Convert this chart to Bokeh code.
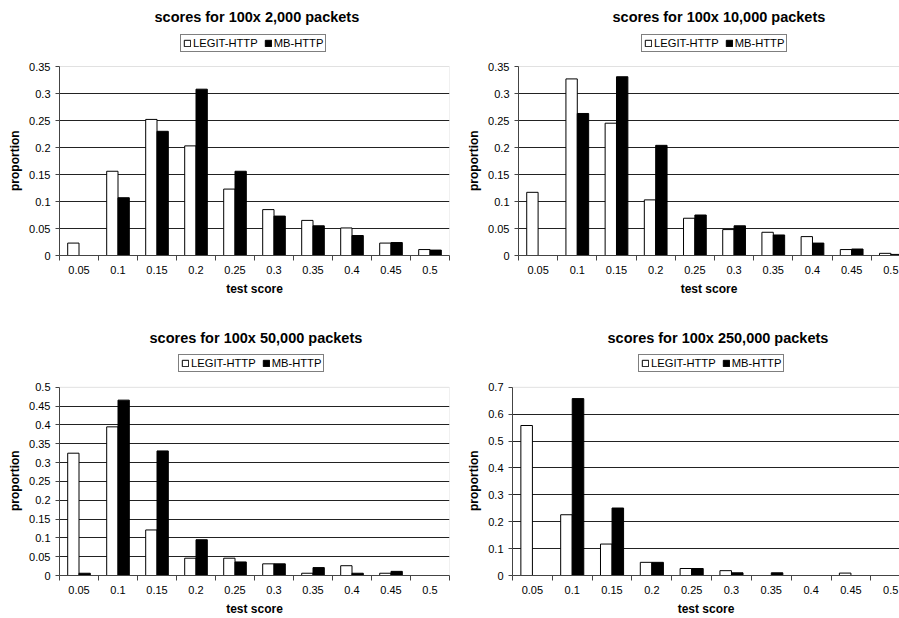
from bokeh.plotting import figure
from bokeh.models import (FixedTicker, CustomJSTickFormatter, Range1d, Legend,
                          LegendItem, ColumnDataSource, BoxAnnotation, Title)
from bokeh.transform import dodge
from bokeh.layouts import column, row
from bokeh.embed import file_html
from bokeh.resources import INLINE

# ---------------- data ----------------
scores = ["0.05", "0.1", "0.15", "0.2", "0.25", "0.3", "0.35", "0.4", "0.45", "0.5"]
series_names = ["LEGIT-HTTP", "MB-HTTP"]
x_label = "test score"
y_label = "proportion"

title_2k = "scores for 100x 2,000 packets"
legit_2k = [0.023, 0.156, 0.252, 0.203, 0.123, 0.085, 0.065, 0.051, 0.023, 0.011]
mb_2k = [0.0, 0.107, 0.230, 0.308, 0.156, 0.073, 0.055, 0.037, 0.024, 0.010]
yticks_2k = [0, 0.05, 0.1, 0.15, 0.2, 0.25, 0.3, 0.35]

title_10k = "scores for 100x 10,000 packets"
legit_10k = [0.117, 0.327, 0.245, 0.103, 0.069, 0.048, 0.043, 0.035, 0.011, 0.004]
mb_10k = [0.0, 0.263, 0.331, 0.204, 0.075, 0.055, 0.038, 0.023, 0.012, 0.002]
yticks_10k = [0, 0.05, 0.1, 0.15, 0.2, 0.25, 0.3, 0.35]

title_50k = "scores for 100x 50,000 packets"
legit_50k = [0.325, 0.395, 0.121, 0.046, 0.046, 0.031, 0.006, 0.026, 0.006, 0.0]
mb_50k = [0.006, 0.466, 0.331, 0.095, 0.036, 0.031, 0.021, 0.006, 0.011, 0.0]
yticks_50k = [0, 0.05, 0.1, 0.15, 0.2, 0.25, 0.3, 0.35, 0.4, 0.45, 0.5]

title_250k = "scores for 100x 250,000 packets"
legit_250k = [0.558, 0.226, 0.117, 0.049, 0.026, 0.018, 0.0, 0.0, 0.009, 0.0]
mb_250k = [0.0, 0.658, 0.251, 0.049, 0.026, 0.010, 0.010, 0.0, 0.0, 0.0]
yticks_250k = [0, 0.1, 0.2, 0.3, 0.4, 0.5, 0.6, 0.7]

FONT = "Liberation Sans"
HEADER = 38      # px of frame above the data area, used for the legend
AXIS_C = "#444444"


def panel(title, legit, mb, yticks, width, height, bl, br, bt, bb, x_end,
          title_offset, legend_x):
    idx = list(range(len(scores)))
    src = ColumnDataSource(dict(x=idx, legit=legit, mb=mb))
    frame_h = height - bt - bb
    data_h = frame_h - HEADER
    ymax = yticks[-1]
    y_end = ymax * frame_h / data_h
    p = figure(width=width, height=height, output_backend="svg",
               toolbar_location=None,
               x_range=Range1d(-0.5, x_end), y_range=Range1d(0, y_end),
               min_border_left=bl, min_border_right=br,
               min_border_top=bt, min_border_bottom=bb)
    p.background_fill_color = "white"
    p.border_fill_color = "white"
    p.outline_line_color = None

    # plot-area border (grey, as in the original)
    p.add_layout(BoxAnnotation(left=-0.5, right=len(scores) - 0.5, bottom=0, top=ymax,
                               fill_color=None, line_color="#9a9a9a", line_width=1,
                               level="underlay"))

    # grid
    p.xgrid.visible = False
    p.ygrid.ticker = FixedTicker(ticks=yticks[1:-1])
    p.ygrid.grid_line_color = "#222222"
    p.ygrid.grid_line_width = 1

    r1 = p.vbar(x=dodge("x", -0.145), top="legit", width=0.29, source=src,
                fill_color="white", line_color="black", line_width=1)
    r2 = p.vbar(x=dodge("x", 0.145), top="mb", width=0.29, source=src,
                fill_color="black", line_color="black", line_width=1)

    # title
    p.title.text = title
    p.title.align = "left"
    p.title.offset = title_offset
    p.title.standoff = 8
    p.title.text_font = FONT
    p.title.text_font_size = "14.5px"
    p.title.text_font_style = "bold"
    p.title.text_color = "black"

    # x axis
    xa = p.xaxis[0]
    xa.ticker = FixedTicker(ticks=idx, minor_ticks=[i - 0.5 for i in range(len(scores) + 1)])
    xa.formatter = CustomJSTickFormatter(args=dict(labels=scores),
                                         code="return labels[Math.round(tick)]")
    xa.major_tick_out = 0
    xa.major_tick_in = 0
    xa.minor_tick_out = 5
    xa.minor_tick_in = 0
    xa.minor_tick_line_color = AXIS_C
    xa.axis_line_color = AXIS_C
    xa.major_label_text_font = FONT
    xa.major_label_text_font_size = "11px"
    xa.major_label_text_color = "black"
    xa.major_label_standoff = 5
    xa.axis_label = x_label
    xa.axis_label_text_font = FONT
    xa.axis_label_text_font_size = "12px"
    xa.axis_label_text_font_style = "bold"
    xa.axis_label_text_color = "black"
    xa.axis_label_standoff = 5

    # y axis
    ya = p.yaxis[0]
    ya.bounds = (0, ymax)
    ya.ticker = FixedTicker(ticks=yticks)
    ya.formatter = CustomJSTickFormatter(code="return tick.toString()")
    ya.major_tick_out = 4
    ya.major_tick_in = 0
    ya.minor_tick_line_color = None
    ya.major_tick_line_color = AXIS_C
    ya.axis_line_color = AXIS_C
    ya.major_label_text_font = FONT
    ya.major_label_text_font_size = "11px"
    ya.major_label_text_color = "black"
    ya.major_label_standoff = 5

    # y axis title, centred on the data area (not on the whole frame)
    ytitle = Title(text=y_label, align="left", offset=data_h / 2 - 30,
                   standoff=10, text_font=FONT, text_font_size="12px",
                   text_font_style="bold", text_color="black")
    p.add_layout(ytitle, "left")

    legend = Legend(items=[LegendItem(label=series_names[0], renderers=[r1]),
                           LegendItem(label=series_names[1], renderers=[r2])],
                    orientation="horizontal",
                    location=(legend_x, data_h + 14))
    legend.border_line_color = "black"
    legend.border_line_width = 1
    legend.background_fill_color = "white"
    legend.background_fill_alpha = 1
    legend.padding = 2
    legend.spacing = 6
    legend.margin = 0
    legend.label_standoff = 2
    legend.glyph_width = 8
    legend.glyph_height = 8
    legend.label_height = 12
    legend.label_width = 10
    legend.label_text_font = FONT
    legend.label_text_font_size = "11.2px"
    legend.label_text_color = "black"
    p.add_layout(legend)
    return p


p1 = panel(title_2k, legit_2k, mb_2k, yticks_2k, 450, 310, 57, 1, 28, 55,
           9.5, 95, 121)
p2 = panel(title_10k, legit_10k, mb_10k, yticks_10k, 449, 310, 68, 0, 28, 55,
           9.22, 94, 123)
p3 = panel(title_50k, legit_50k, mb_50k, yticks_50k, 450, 308, 57, 1, 39, 42,
           9.5, 90, 119)
p4 = panel(title_250k, legit_250k, mb_250k, yticks_250k, 449, 308, 62, 0, 39, 42,
           9.22, 95, 126)

page = column(row(p1, p2), row(p3, p4))

open("out.html", "w").write(file_html(page, INLINE))
